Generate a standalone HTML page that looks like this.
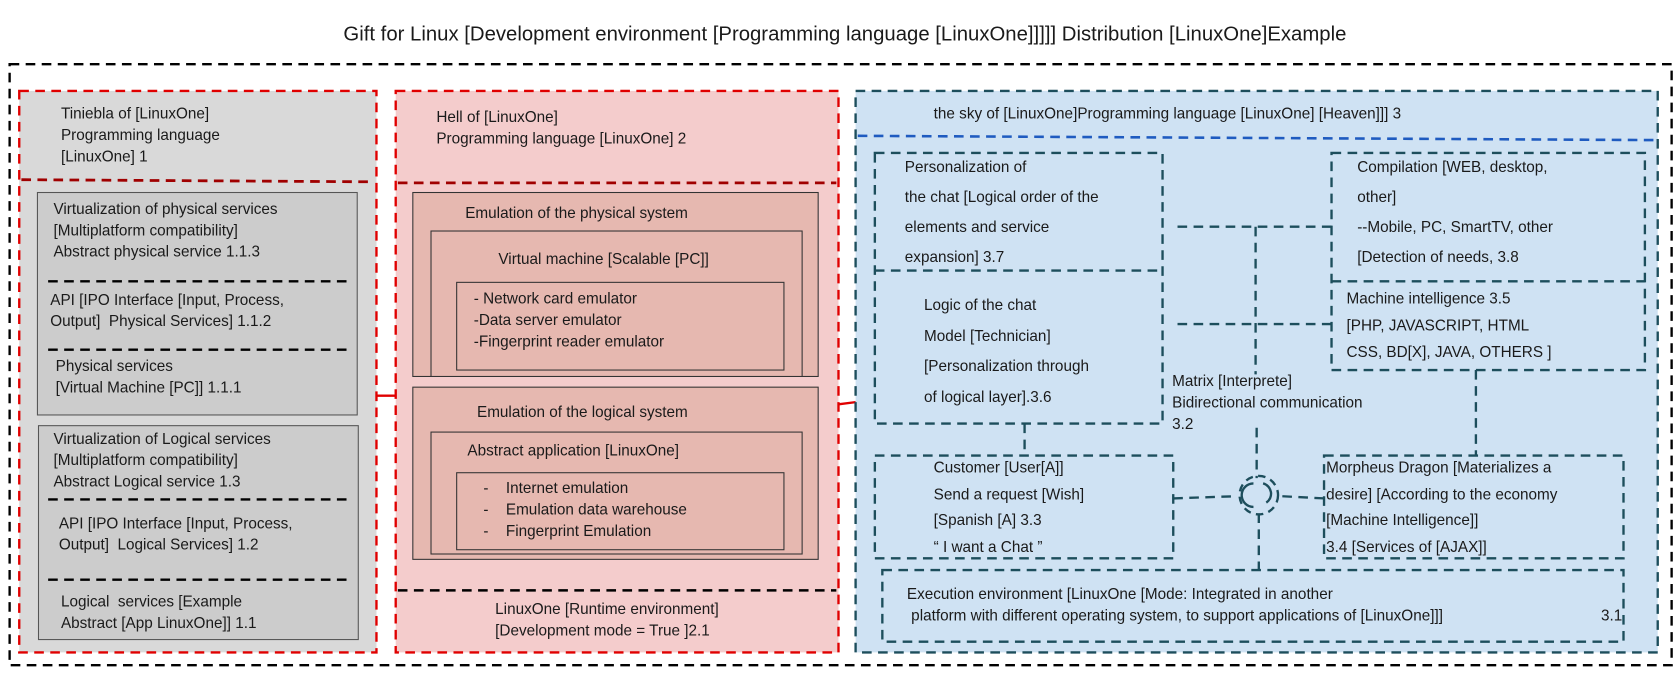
<!DOCTYPE html>
<html><head><meta charset="utf-8"><style>
html,body{margin:0;padding:0;background:#fff;width:1677px;height:677px;overflow:hidden}
#w{position:absolute;left:0;top:0;width:1568px;height:633px;transform:scale(1.0695);transform-origin:0 0;font-family:"Liberation Sans",sans-serif;color:#1a1a1a}
.t{position:absolute;font-size:14.3px;line-height:20px;white-space:pre}
svg{position:absolute;left:0;top:0}
</style></head><body><div id="w">
<svg width="1568" height="633" viewBox="0 0 1568 633">
<g fill="none" stroke-width="2.2">
<rect x="9" y="60" width="1554" height="562" stroke="#000" stroke-dasharray="9,6"/>
<rect x="18" y="85" width="334" height="525" fill="#d9d9d9" stroke="#e00000" stroke-dasharray="9,6"/>
<line x1="20" y1="168" x2="350" y2="170" stroke="#a00000" stroke-dasharray="9,6" stroke-width="2.6"/>
<rect x="35" y="180" width="299" height="208" fill="#cccccc" stroke="#555" stroke-width="1"/>
<line x1="45" y1="263" x2="325" y2="263" stroke="#000" stroke-dasharray="9,6"/>
<line x1="45" y1="327" x2="325" y2="327" stroke="#000" stroke-dasharray="9,6"/>
<rect x="36" y="398" width="299" height="200" fill="#cccccc" stroke="#555" stroke-width="1"/>
<line x1="45" y1="467" x2="325" y2="467" stroke="#000" stroke-dasharray="9,6"/>
<line x1="45" y1="542" x2="325" y2="542" stroke="#000" stroke-dasharray="9,6"/>
<rect x="370" y="85" width="414" height="525" fill="#f4cccc" stroke="#e00000" stroke-dasharray="9,6"/>
<line x1="372" y1="171" x2="782" y2="171" stroke="#a00000" stroke-dasharray="9,6" stroke-width="2.6"/>
<rect x="386" y="180" width="379" height="172" fill="#e6b8b0" stroke="#333" stroke-width="1"/>
<rect x="403" y="216" width="347" height="136" fill="#e6b8b0" stroke="#333" stroke-width="1"/>
<rect x="427" y="264" width="306" height="82" fill="#e6b8b0" stroke="#333" stroke-width="1"/>
<rect x="386" y="362" width="379" height="161" fill="#e6b8b0" stroke="#333" stroke-width="1"/>
<rect x="403" y="404" width="347" height="114" fill="#e6b8b0" stroke="#333" stroke-width="1"/>
<rect x="427" y="442" width="306" height="72" fill="#e6b8b0" stroke="#333" stroke-width="1"/>
<line x1="372" y1="552" x2="782" y2="552" stroke="#000" stroke-dasharray="9,6" stroke-width="2.4"/>
<polyline points="352,370 370,370" stroke="#e00000"/>
<polyline points="784,378 800,376" stroke="#e00000"/>
<rect x="800" y="85" width="750" height="525" fill="#cfe2f3" stroke="#1d4e5c" stroke-dasharray="9,6"/>
<line x1="802" y1="127" x2="1548" y2="131" stroke="#1f5bc0" stroke-dasharray="9,6" stroke-width="2.4"/>
<g stroke="#1d4e5c" stroke-dasharray="9,6">
<rect x="818" y="143" width="269" height="253"/>
<line x1="818" y1="253" x2="1087" y2="253"/>
<rect x="1245" y="143" width="293" height="203"/>
<line x1="1245" y1="263" x2="1538" y2="263"/>
<line x1="1101" y1="212" x2="1245" y2="212"/>
<line x1="1101" y1="303" x2="1245" y2="303"/>
<line x1="1174" y1="212" x2="1174" y2="350"/>
<line x1="1175" y1="400" x2="1175" y2="447"/>
<line x1="1177" y1="480" x2="1177" y2="533"/>
<line x1="958" y1="396" x2="958" y2="426"/>
<line x1="1380" y1="346" x2="1380" y2="426"/>
<rect x="818" y="426" width="279" height="96"/>
<rect x="1238" y="426" width="280" height="96"/>
<line x1="1097" y1="466" x2="1155" y2="464"/>
<line x1="1199" y1="464" x2="1238" y2="466"/>
<rect x="825" y="533" width="693" height="67"/>
<circle cx="1177" cy="463" r="18" stroke-dasharray="7,5"/>
<path d="M1172 452 A10 10 0 0 0 1172 474" stroke-dasharray="none"/>
<path d="M1181 452 A10 10 0 0 1 1184 470" stroke-dasharray="none"/>
</g>
</g>
</svg>
<div class="t" style="left:0;width:1580px;text-align:center;top:21px;font-size:19px;line-height:24px">Gift for Linux [Development environment [Programming language [LinuxOne]]]]] Distribution [LinuxOne]Example</div>
<div class="t" style="left:57px;top:97px">Tiniebla of [LinuxOne]
Programming language
[LinuxOne] 1</div>
<div class="t" style="left:408px;top:100px">Hell of [LinuxOne]
Programming language [LinuxOne] 2</div>
<div class="t" style="left:50px;top:186px">Virtualization of physical services
[Multiplatform compatibility]
Abstract physical service 1.1.3</div>
<div class="t" style="left:47px;top:271px">API [IPO Interface [Input, Process,
Output]  Physical Services] 1.1.2</div>
<div class="t" style="left:52px;top:333px">Physical services
[Virtual Machine [PC]] 1.1.1</div>
<div class="t" style="left:50px;top:401px">Virtualization of Logical services
[Multiplatform compatibility]
Abstract Logical service 1.3</div>
<div class="t" style="left:55px;top:480px">API [IPO Interface [Input, Process,
Output]  Logical Services] 1.2</div>
<div class="t" style="left:57px;top:553px">Logical  services [Example
Abstract [App LinuxOne]] 1.1</div>
<div class="t" style="left:435px;top:190px">Emulation of the physical system</div>
<div class="t" style="left:466px;top:233px">Virtual machine [Scalable [PC]]</div>
<div class="t" style="left:443px;top:270px">- Network card emulator
-Data server emulator
-Fingerprint reader emulator</div>
<div class="t" style="left:446px;top:376px">Emulation of the logical system</div>
<div class="t" style="left:437px;top:412px">Abstract application [LinuxOne]</div>
<div class="t" style="left:452px;top:447px">-
-
-</div>
<div class="t" style="left:473px;top:447px">Internet emulation
Emulation data warehouse
Fingerprint Emulation</div>
<div class="t" style="left:463px;top:560px">LinuxOne [Runtime environment]
[Development mode = True ]2.1</div>
<div class="t" style="left:873px;top:97px">the sky of [LinuxOne]Programming language [LinuxOne] [Heaven]]] 3</div>
<div class="t" style="left:846px;top:143px;line-height:28px">Personalization of
the chat [Logical order of the
elements and service
expansion] 3.7</div>
<div class="t" style="left:864px;top:272px;line-height:28.5px">Logic of the chat
Model [Technician]
[Personalization through
of logical layer].3.6</div>
<div class="t" style="left:1269px;top:143px;line-height:28px">Compilation [WEB, desktop,
other]
--Mobile, PC, SmartTV, other
[Detection of needs, 3.8</div>
<div class="t" style="left:1259px;top:268px;line-height:25px">Machine intelligence 3.5
[PHP, JAVASCRIPT, HTML
CSS, BD[X], JAVA, OTHERS ]</div>
<div class="t" style="left:1096px;top:347px">Matrix [Interprete]
Bidirectional communication
3.2</div>
<div class="t" style="left:873px;top:426px;line-height:24.5px">Customer [User[A]]
Send a request [Wish]
[Spanish [A] 3.3
“ I want a Chat ”</div>
<div class="t" style="left:1240px;top:426px;line-height:24.5px">Morpheus Dragon [Materializes a
desire] [According to the economy
[Machine Intelligence]]
3.4 [Services of [AJAX]]</div>
<div class="t" style="left:848px;top:546px">Execution environment [LinuxOne [Mode: Integrated in another
 platform with different operating system, to support applications of [LinuxOne]]]</div>
<div class="t" style="left:1497px;top:566px">3.1</div>
</div></body></html>
